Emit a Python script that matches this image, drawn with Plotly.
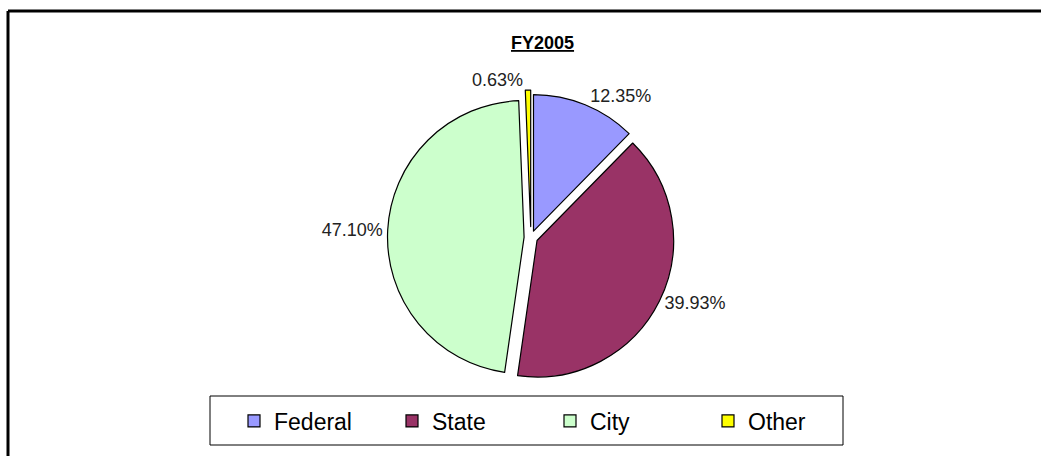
import plotly.graph_objects as go

categories = ["Federal", "State", "City", "Other"]
values = [12.35, 39.93, 47.10, 0.63]
label_texts = ["12.35%", "39.93%", "47.10%", "0.63%"]
colors = ["#9999FF", "#993366", "#CCFFCC", "#FFFF00"]
title_text = "FY2005"

W, H = 1041, 456
FONT = "Liberation Sans, Arial, sans-serif"

fig = go.Figure()
fig.add_trace(go.Pie(
    labels=categories,
    values=values,
    text=label_texts,
    textinfo="text",
    textposition="outside",
    textfont=dict(family=FONT, size=18, color="#222222"),
    marker=dict(colors=colors, line=dict(color="black", width=1.2)),
    sort=False,
    direction="clockwise",
    rotation=0,
    pull=[0.05, 0.05, 0.05, 0.08],
    domain=dict(x=[0.18, 0.84], y=[1 - 385 / H, 1 - 90 / H]),
    hoverinfo="label+percent",
))

fig.update_layout(
    width=W, height=H,
    margin=dict(l=0, r=0, t=0, b=0, pad=0, autoexpand=False),
    paper_bgcolor="white",
    plot_bgcolor="white",
    showlegend=True,
    legend=dict(
        orientation="h",
        x=234 / W, xanchor="left",
        y=1 - 421 / H, yanchor="middle",
        borderwidth=0,
        bgcolor="rgba(0,0,0,0)",
        font=dict(family=FONT, size=23, color="black"),
        entrywidth=113,
        traceorder="normal",
    ),
    annotations=[dict(
        text="<b><u>" + title_text + "</u></b>",
        x=542 / W, y=1 - 43 / H, xref="paper", yref="paper",
        xanchor="center", yanchor="middle", showarrow=False,
        font=dict(family=FONT, size=18, color="black"),
    )],
    shapes=[
        dict(type="line", xref="paper", yref="paper",
             x0=8 / W, x1=1.01, y0=1 - 11 / H, y1=1 - 11 / H,
             line=dict(color="black", width=3)),
        dict(type="line", xref="paper", yref="paper",
             x0=8 / W, x1=8 / W, y0=1 - 11 / H, y1=-0.02,
             line=dict(color="black", width=3)),
        dict(type="rect", xref="paper", yref="paper",
             x0=210 / W, x1=843 / W, y0=1 - 445 / H, y1=1 - 396 / H,
             line=dict(color="black", width=1), fillcolor="white", layer="below"),
    ],
)

fig.write_html("out.html", config={"displayModeBar": False})
with open("out.html", "r", encoding="utf-8") as f:
    html = f.read()
html = html.replace("<body>", '<body style="margin:0;padding:0;overflow:hidden">', 1)
with open("out.html", "w", encoding="utf-8") as f:
    f.write(html)
